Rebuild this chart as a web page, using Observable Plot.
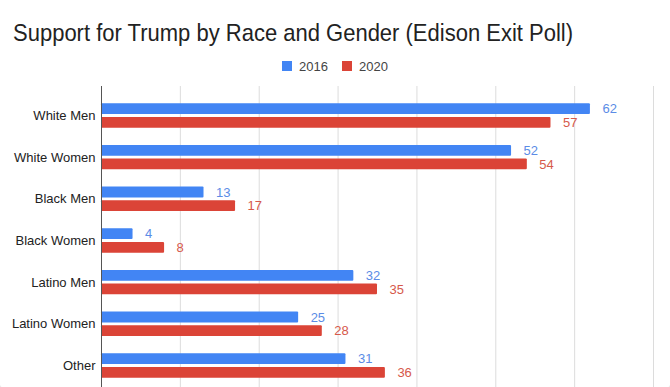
<!DOCTYPE html>
<html>
<head>
<meta charset="utf-8">
<script src="https://cdn.jsdelivr.net/npm/d3@7"></script>
<script src="https://cdn.jsdelivr.net/npm/@observablehq/plot@0.6"></script>
<style>
  html, body { margin: 0; padding: 0; background: #fff; }
  body { width: 670px; height: 387px; position: relative; overflow: hidden;
         font-family: "Liberation Sans", Arial, Helvetica, sans-serif; }
  #title { position: absolute; left: 13px; top: 20px; font-size: 22px; line-height: 26px;
           color: #222; white-space: nowrap; transform-origin: left center; transform: scaleY(1.1); }
  #legend { position: absolute; left: 0; width: 670px; top: 60px; height: 12px;
            display: flex; justify-content: center; align-items: center; font-size: 13px; color: #444; }
  .sw { width: 10px; height: 10px; display: inline-block; margin-right: 7px; }
  .item { display: flex; align-items: center; margin: 0 7px; }
  #chart { position: absolute; left: 0; top: 80px; }
  #frame { position: absolute; left: -5px; right: -5px; top: -60px; bottom: -9px;
           border: 1px solid #e8e8e8; border-radius: 24px; pointer-events: none; }
</style>
</head>
<body>
<div id="title">Support for Trump by Race and Gender (Edison Exit Poll)</div>
<div id="legend"></div>
<div id="chart"></div>
<div id="frame"></div>
<script>
const categories = ["White Men", "White Women", "Black Men", "Black Women", "Latino Men", "Latino Women", "Other"];
const years = ["2016", "2020"];
const values2016 = [62, 52, 13, 4, 32, 25, 31];
const values2020 = [57, 54, 17, 8, 35, 28, 36];
const xTicks = [0, 10, 20, 30, 40, 50, 60, 70];
const colors = ["#4285F4", "#DB4437"];
const labelColors = ["#5B8CE6", "#D6594B"];

const rows2016 = categories.map((c, i) => ({group: c, year: years[0], value: values2016[i]}));
const rows2020 = categories.map((c, i) => ({group: c, year: years[1], value: values2020[i]}));

// legend
const legend = document.getElementById("legend");
years.forEach((y, i) => {
  const item = document.createElement("div");
  item.className = "item";
  const sw = document.createElement("span");
  sw.className = "sw";
  sw.style.background = colors[i];
  const t = document.createElement("span");
  t.textContent = y;
  item.appendChild(sw);
  item.appendChild(t);
  legend.appendChild(item);
});

const H = 307;
const band = 24.4;
const barH = 10.8;

const chart = Plot.plot({
  width: 670,
  height: H,
  marginTop: 6,
  marginBottom: 0,
  marginLeft: 101,
  marginRight: 17,
  style: {fontFamily: '"Liberation Sans", Arial, Helvetica, sans-serif', fontSize: "13px", color: "#222", background: "transparent"},
  x: {domain: [0, 70], axis: null},
  y: {domain: categories, range: [6, H], paddingInner: 0.414, paddingOuter: 0.319, align: 0.65, round: false,
      tickSize: 0, tickPadding: 6, label: null},
  marks: [
    Plot.gridX(xTicks, {stroke: "#dcdcdc", strokeOpacity: 1, strokeWidth: 1}),
    Plot.barX(rows2016, {x: "value", y: "group", fill: colors[0], insetBottom: band - barH, rx: 1}),
    Plot.barX(rows2020, {x: "value", y: "group", fill: colors[1], insetTop: band - barH, rx: 1}),
    Plot.ruleX([0], {stroke: "#555", strokeWidth: 1}),
    Plot.text(rows2016, {x: "value", y: "group", text: d => String(d.value), dx: 12, dy: -6.8,
      textAnchor: "start", fill: labelColors[0], fontSize: 13}),
    Plot.text(rows2020, {x: "value", y: "group", text: d => String(d.value), dx: 12, dy: 6.8,
      textAnchor: "start", fill: labelColors[1], fontSize: 13})
  ]
});
document.getElementById("chart").appendChild(chart);
</script>
</body>
</html>
